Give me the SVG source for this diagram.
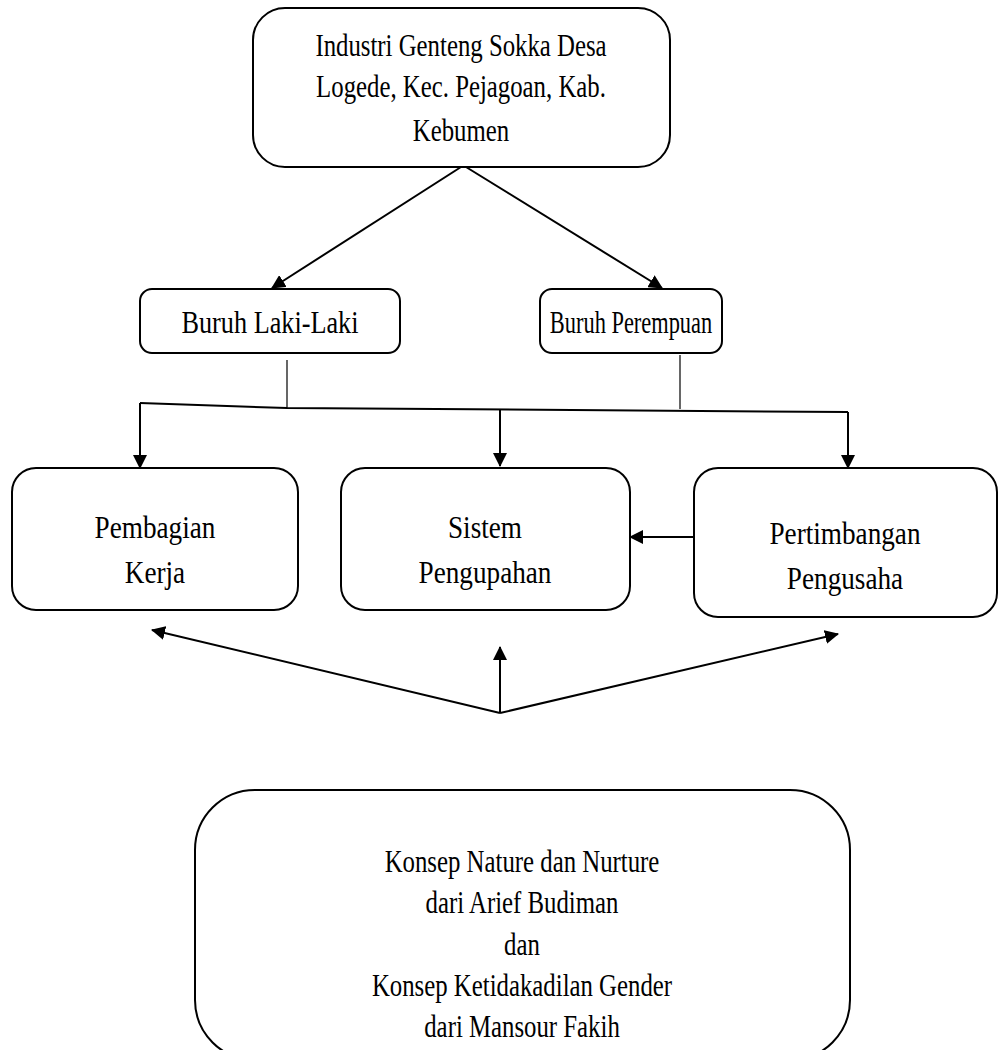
<svg xmlns="http://www.w3.org/2000/svg" width="998" height="1050" viewBox="0 0 998 1050">
<defs>
<style>
.box{fill:#fff;stroke:#000;stroke-width:2}
.t{font-family:"Liberation Serif","Times New Roman",serif;font-size:31px;fill:#000;text-anchor:middle}
.m{font-size:32px}
.c{fill:none;stroke:#000;stroke-width:2}
.thin{fill:none;stroke:#000;stroke-width:1.2}
</style>
<marker id="ah" markerWidth="14" markerHeight="14" refX="13" refY="7" orient="auto" markerUnits="userSpaceOnUse" viewBox="0 0 14 14">
<path d="M0,0 L14,7 L0,14 z" fill="#000"/>
</marker>
</defs>
<rect width="998" height="1050" fill="#fff"/>
<g id="connectors">
<line class="c" x1="461" y1="167" x2="272" y2="288" marker-end="url(#ah)"/>
<line class="c" x1="466" y1="167" x2="662" y2="288" marker-end="url(#ah)"/>
<line class="thin" x1="287" y1="360" x2="287" y2="408"/>
<line class="thin" x1="680" y1="355" x2="680" y2="409"/>
<polyline class="c" points="140,403 287,408 848,412"/>
<line class="c" x1="140" y1="403" x2="140" y2="468" marker-end="url(#ah)"/>
<line class="c" x1="500" y1="410" x2="500" y2="466" marker-end="url(#ah)"/>
<line class="c" x1="848" y1="412" x2="848" y2="468" marker-end="url(#ah)"/>
<line class="c" x1="694" y1="537" x2="630" y2="537" marker-end="url(#ah)"/>
<line class="c" x1="500" y1="713" x2="152" y2="630" marker-end="url(#ah)"/>
<line class="c" x1="500" y1="713" x2="500" y2="647" marker-end="url(#ah)"/>
<line class="c" x1="500" y1="713" x2="838" y2="634" marker-end="url(#ah)"/>
</g>
<g id="n-industri">
<rect class="box" x="253" y="8" width="417" height="159" rx="32"/>
<text class="t" transform="translate(461,56) scale(0.8,1)">Industri Genteng Sokka Desa</text>
<text class="t" transform="translate(461,97) scale(0.8,1)">Logede, Kec. Pejagoan, Kab.</text>
<text class="t" transform="translate(461,141) scale(0.8,1)">Kebumen</text>
</g>
<g id="n-laki">
<rect class="box" x="140" y="289" width="260" height="64" rx="12"/>
<text class="t m" transform="translate(270,333) scale(0.82,1)">Buruh Laki-Laki</text>
</g>
<g id="n-perempuan">
<rect class="box" x="540" y="289" width="182" height="64" rx="12"/>
<text class="t m" transform="translate(631,333) scale(0.7,1)">Buruh Perempuan</text>
</g>
<g id="n-pembagian">
<rect class="box" x="12" y="468" width="286" height="142" rx="24"/>
<text class="t m" transform="translate(155,538) scale(0.85,1)">Pembagian</text>
<text class="t m" transform="translate(155,583) scale(0.85,1)">Kerja</text>
</g>
<g id="n-sistem">
<rect class="box" x="341" y="468" width="289" height="142" rx="24"/>
<text class="t m" transform="translate(485,538) scale(0.85,1)">Sistem</text>
<text class="t m" transform="translate(485,583) scale(0.85,1)">Pengupahan</text>
</g>
<g id="n-pertimbangan">
<rect class="box" x="694" y="468" width="303" height="149" rx="24"/>
<text class="t m" transform="translate(845,544) scale(0.85,1)">Pertimbangan</text>
<text class="t m" transform="translate(845,589) scale(0.85,1)">Pengusaha</text>
</g>
<g id="n-konsep">
<rect class="box" x="195" y="790" width="655" height="270" rx="60"/>
<text class="t" transform="translate(522,872) scale(0.8,1)">Konsep Nature dan Nurture</text>
<text class="t" transform="translate(522,913) scale(0.8,1)">dari Arief Budiman</text>
<text class="t" transform="translate(522,955) scale(0.8,1)">dan</text>
<text class="t" transform="translate(522,996) scale(0.8,1)">Konsep Ketidakadilan Gender</text>
<text class="t" transform="translate(522,1037) scale(0.8,1)">dari Mansour Fakih</text>
</g>
</svg>
